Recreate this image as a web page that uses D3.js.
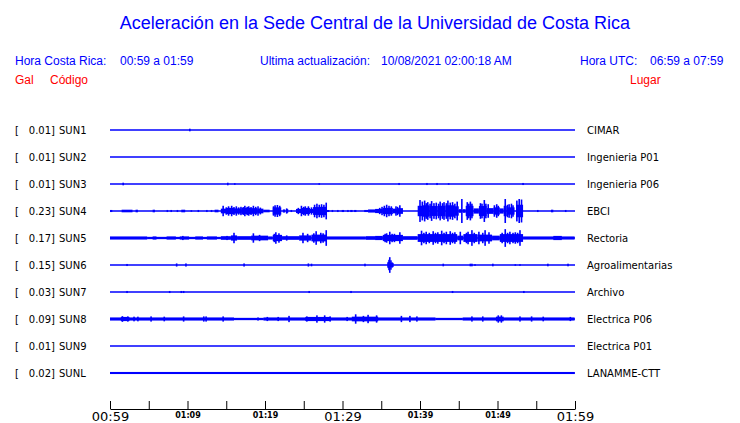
<!DOCTYPE html>
<html><head><meta charset="utf-8">
<script src="https://cdn.jsdelivr.net/npm/d3@7"></script>
<style>
body{margin:0;background:#fff;}
svg{display:block;}
</style></head>
<body>
<svg id="chart" width="740" height="423"></svg>
<script>
// ---------- data ----------
const title = "Aceleración en la Sede Central de la Universidad de Costa Rica";
const headerLocal = ["Hora Costa Rica:", "00:59 a 01:59"];
const headerUpdate = ["Ultima actualización:", "10/08/2021 02:00:18 AM"];
const headerUTC = ["Hora UTC:", "06:59 a 07:59"];
const colHeads = ["Gal", "Código", "Lugar"];

const stations = ["SUN1","SUN2","SUN3","SUN4","SUN5","SUN6","SUN7","SUN8","SUN9","SUNL"];
const places = ["CIMAR","Ingenieria P01","Ingenieria P06","EBCI","Rectoria","Agroalimentarias","Archivo","Electrica P06","Electrica P01","LANAMME-CTT"];
const peakGal = [0.01,0.01,0.01,0.23,0.17,0.15,0.03,0.09,0.01,0.02];

// minutes after 00:59 ; tick labels
const tickMinutes = [0,5,10,15,20,25,30,35,40,45,50,55,60];
const majorTickLabels = {0:"00:59", 30:"01:29", 60:"01:59"};
const minorTickLabels = {10:"01:09", 20:"01:19", 40:"01:39", 50:"01:49"};

// envelope segments [startMin, endMin, amplitude gal]
const sun4Segments = [[0,0.3,0.02],[1.5,2.9,0.025],[3.3,3.6,0.025],[5.5,5.8,0.025],[7.3,7.5,0.02],[7.8,8.0,0.02],[8.6,8.8,0.02],[9.2,9.7,0.025],[10.4,10.6,0.015],[11.3,11.5,0.02],[12.4,12.6,0.02],[13.0,13.2,0.02],[13.5,14.0,0.025],
  [14.3,15.0,0.045],[15.0,16.0,0.06],[16.0,17.0,0.05],[17.0,18.2,0.06],[18.2,19.0,0.055],[19.0,19.8,0.045],[19.8,20.6,0.025],[21.0,22.1,0.07],[22.3,22.6,0.03],[22.7,23.0,0.035],[23.3,23.5,0.02],[24.0,24.7,0.04],[24.7,25.8,0.06],[25.8,26.2,0.04],[26.2,27.0,0.075],[27.0,27.9,0.08],
  [28.0,28.3,0.02],[28.6,28.8,0.02],[29.3,29.5,0.02],[29.9,30.2,0.02],[30.6,30.8,0.02],[31.0,31.3,0.02],[31.5,31.8,0.02],[32.8,33.3,0.02],[33.3,34.2,0.03],[34.2,35.2,0.04],[35.2,36.5,0.06],[36.5,37.0,0.045],[37.0,37.8,0.055],
  [39.7,40.3,0.1],[40.3,41.2,0.11],[41.2,42.3,0.095],[42.3,43.3,0.1],[43.3,44.5,0.11],[44.5,45.0,0.09],[45.0,45.3,0.035],[45.5,45.9,0.035],[45.9,46.9,0.1],[46.9,47.6,0.05],[47.6,48.6,0.095],[48.6,49.5,0.055],[49.5,50.3,0.07],[50.3,50.8,0.05],[50.8,51.2,0.1],[51.2,52.2,0.07],[52.4,53.3,0.12],
  [55.1,55.3,0.02],[56.9,57.2,0.025],[58.7,58.9,0.02]];
const sun4Spikes = [[14.6,0.1],[15.0,0.07],[15.3,0.09],[15.7,0.1],[16.0,0.075],[16.3,0.09],[16.6,0.07],[16.9,0.08],[17.2,0.075],[17.4,0.1],[17.7,0.08],[17.9,0.09],[18.2,0.075],[18.5,0.1],[18.8,0.08],[19.1,0.09],[19.4,0.065],[21.1,0.09],[21.3,0.11],[21.6,0.115],[21.9,0.1],[22.8,0.05],[24.3,0.06],[24.7,0.1],[25.0,0.08],[25.2,0.09],[25.6,0.09],[26.0,0.07],[26.4,0.12],[26.7,0.14],[27.0,0.12],[27.3,0.13],[27.6,0.12],[27.9,0.16],
  [34.8,0.06],[35.1,0.08],[35.4,0.1],[35.7,0.12],[36.0,0.1],[36.3,0.09],[36.9,0.09],[37.1,0.08],[37.4,0.11],[40.0,0.21],[40.3,0.18],[40.6,0.2],[40.8,0.15],[41.0,0.17],[41.3,0.14],[41.5,0.19],[41.8,0.15],[42.1,0.16],[42.4,0.14],[42.6,0.18],[42.9,0.15],[43.1,0.17],[43.4,0.15],[43.6,0.2],[43.9,0.16],[44.2,0.17],[44.5,0.14],[44.8,0.18],[45.4,0.23],[46.1,0.17],[46.3,0.14],[46.5,0.18],[46.7,0.14],[47.8,0.15],[48.0,0.14],[48.3,0.21],[48.5,0.14],[48.8,0.13],[49.6,0.11],[49.9,0.13],[50.1,0.1],[51.0,0.23],[51.3,0.12],[51.5,0.13],[51.8,0.14],[52.0,0.11],[52.5,0.2],[52.8,0.23],[53.1,0.22]];

const sun5Segments = [[0,4.8,0.03],[4.8,14.3,0.022],[5.5,6.0,0.03],[7.3,8.5,0.03],[9.0,10.2,0.03],[11.0,12.0,0.03],[12.5,13.8,0.03],
  [14.3,15.6,0.035],[15.6,16.4,0.05],[16.4,18.2,0.035],[18.2,20.4,0.045],[20.4,21.0,0.03],[21.0,22.2,0.06],[22.2,24.4,0.035],[24.4,26.0,0.05],[26.0,28.0,0.065],[28.0,33.0,0.03],[33.0,34.2,0.035],[34.2,35.2,0.04],[35.2,37.8,0.06],[37.8,39.7,0.035],
  [39.7,44.8,0.075],[44.8,45.6,0.045],[45.6,47.4,0.075],[47.4,49.3,0.065],[49.3,50.3,0.045],[50.3,53.3,0.075],[53.3,59.95,0.03],[57.2,58.3,0.04]];
const sun5Spikes = [[9.4,0.04],[15.1,0.04],[16.0,0.1],[18.5,0.09],[19.3,0.06],[21.2,0.08],[21.4,0.11],[21.8,0.09],[22.8,0.05],[24.9,0.1],[25.5,0.08],[26.3,0.09],[26.6,0.13],[27.2,0.1],[27.5,0.09],[27.9,0.15],
  [35.5,0.08],[35.7,0.09],[36.1,0.12],[36.4,0.08],[36.7,0.08],[37.4,0.11],[40.2,0.14],[40.5,0.1],[40.8,0.12],[41.2,0.1],[41.7,0.13],[42.0,0.1],[42.3,0.11],[42.8,0.14],[43.1,0.1],[43.4,0.12],[43.9,0.13],[44.2,0.1],[44.5,0.11],[45.2,0.12],[46.0,0.1],[46.2,0.12],[46.7,0.15],[47.0,0.1],[47.6,0.12],[48.1,0.1],[48.4,0.15],[48.9,0.11],[50.6,0.1],[51.0,0.17],[51.3,0.1],[51.6,0.12],[52.0,0.1],[52.3,0.11],[52.6,0.1],[52.9,0.15]];

const sun6Segments = [[35.8,36.6,0.04]];
const sun6Spikes = [[2.2,0.02],[8.6,0.03],[9.8,0.03],[17.3,0.03],[25.6,0.03],[26.0,0.025],[32.9,0.025],[35.9,0.06],[36.0,0.1],[36.1,0.15],[36.25,0.09],[36.4,0.05],[43.0,0.025],[46.5,0.025],[46.7,0.025],[47.1,0.015],[49.4,0.025],[52.3,0.015],[52.9,0.015],[56.5,0.025],[59.1,0.025]];

const sun7Spikes = [[2.2,0.02],[7.7,0.02],[9.2,0.02],[9.5,0.02],[25.7,0.02],[31.1,0.02],[44.2,0.02],[53.4,0.02]];

const sun8Segments = [[0,16,0.03],[16,19.8,0.022],[19.8,42,0.03],[42,45.5,0.022],[45.5,59.95,0.03],[1.4,2.5,0.04],[25.2,28.5,0.04],[31.2,34.6,0.045],[49.8,50.8,0.045]];
const sun8Spikes = [[1.6,0.055],[2.3,0.05],[3.1,0.045],[3.6,0.045],[5.3,0.05],[7.0,0.045],[9.5,0.05],[12.1,0.05],[12.4,0.05],[14.6,0.05],[19.1,0.03],[20.3,0.04],[21.7,0.04],[23.1,0.06],[25.4,0.05],[26.7,0.07],[27.7,0.07],[28.4,0.05],[30.6,0.04],[31.7,0.09],[32.7,0.06],[33.3,0.08],[34.4,0.07],[37.6,0.06],[38.7,0.06],[39.6,0.05],[46.7,0.05],[48.1,0.05],[50.1,0.07],[50.5,0.07],[52.9,0.05],[54.4,0.05],[55.9,0.045],[59.4,0.04]];

const sun1Spikes = [[10.3,0.025]];
const sun3Spikes = [[1.7,0.025],[15.2,0.025],[16.1,0.015],[27.0,0.015],[37.3,0.02],[40.9,0.02],[42.2,0.02],[43.7,0.015],[53.3,0.02]];
const sunLSegments = [[0,59.95,0.02]];

const traceSegments = {SUN4:sun4Segments, SUN5:sun5Segments, SUN6:sun6Segments, SUN8:sun8Segments, SUNL:sunLSegments};
const traceSpikes = {SUN1:sun1Spikes, SUN3:sun3Spikes, SUN4:sun4Spikes, SUN5:sun5Spikes, SUN6:sun6Spikes, SUN7:sun7Spikes, SUN8:sun8Spikes};

// ---------- drawing ----------
const svg = d3.select("#chart");
const BLUE = "#0000ff", RED = "#ff0000";
const sans = "'Liberation Sans', Arial, sans-serif";
const dv = "'DejaVu Sans', sans-serif";

svg.append("text").attr("x", 375).attr("y", 29).attr("text-anchor","middle")
  .attr("font-family", sans).attr("font-size", 18).attr("fill", BLUE).text(title);

const hdr = [[15, headerLocal[0]],[120, headerLocal[1]],[260, headerUpdate[0]],[381, headerUpdate[1]],[580, headerUTC[0]],[650, headerUTC[1]]];
svg.selectAll("text.hdr").data(hdr).join("text").attr("class","hdr")
  .attr("x", d=>d[0]).attr("y", 65).attr("font-family", sans).attr("font-size", 12).attr("fill", BLUE).text(d=>d[1]);
const ch = [[15, colHeads[0]],[50, colHeads[1]],[630, colHeads[2]]];
svg.selectAll("text.ch").data(ch).join("text").attr("class","ch")
  .attr("x", d=>d[0]).attr("y", 84).attr("font-family", sans).attr("font-size", 12).attr("fill", RED).text(d=>d[1]);

const x = d3.scaleLinear().domain([0, 60]).range([110, 575]);
const y = d3.scalePoint().domain(stations).range([130, 373]);
const amp = d3.scaleLinear().domain([0, 0.23]).range([0, 12]);

const rows = svg.selectAll("g.row").data(stations).join("g").attr("class","row")
  .attr("transform", d => `translate(0,${y(d)})`);

rows.append("text").attr("x", 15).attr("y", 4).attr("font-family", dv).attr("font-size", 10).text("[");
rows.append("text").attr("x", 55).attr("y", 4).attr("text-anchor","end").attr("font-family", dv).attr("font-size", 10)
  .text((d,i) => peakGal[i].toFixed(2) + "]");
rows.append("text").attr("x", 59).attr("y", 4).attr("font-family", dv).attr("font-size", 10).text(d => d);
rows.append("text").attr("x", 587).attr("y", 4).attr("font-family", dv).attr("font-size", 10).text((d,i) => places[i]);

rows.append("line").attr("x1", x(0)).attr("x2", x(60)).attr("y1", 0).attr("y2", 0)
  .attr("stroke", BLUE).attr("stroke-width", 1.3);

rows.each(function(st){
  const g = d3.select(this);
  const segs = traceSegments[st] || [];
  g.selectAll("rect.seg").data(segs).join("rect").attr("class","seg")
    .attr("x", d => x(d[0])).attr("width", d => Math.max(1, x(d[1]) - x(d[0])))
    .attr("y", d => -Math.max(0.6, amp(d[2]))).attr("height", d => 2*Math.max(0.6, amp(d[2])))
    .attr("fill", BLUE);
  const sp = traceSpikes[st] || [];
  g.selectAll("rect.sp").data(sp).join("rect").attr("class","sp")
    .attr("x", d => x(d[0]) - 0.8).attr("width", 1.6)
    .attr("y", d => -amp(d[1])).attr("height", d => 2*amp(d[1]))
    .attr("fill", BLUE);
});

// axis
const axisG = svg.append("g").attr("transform", "translate(0,409)");
axisG.call(d3.axisBottom(x).tickValues(tickMinutes).tickSize(-8).tickSizeOuter(0).tickPadding(3)
  .tickFormat(m => majorTickLabels[m] || minorTickLabels[m] || ""));
axisG.select(".domain").attr("stroke", "#000").attr("stroke-width", 1);
axisG.selectAll(".tick line").attr("stroke", "#000");
axisG.selectAll(".tick text").attr("fill", "#000")
  .attr("font-family", dv)
  .attr("font-size", m => majorTickLabels[m] ? 13 : 8)
  .attr("font-weight", m => majorTickLabels[m] ? "normal" : "bold");
</script>
</body></html>
